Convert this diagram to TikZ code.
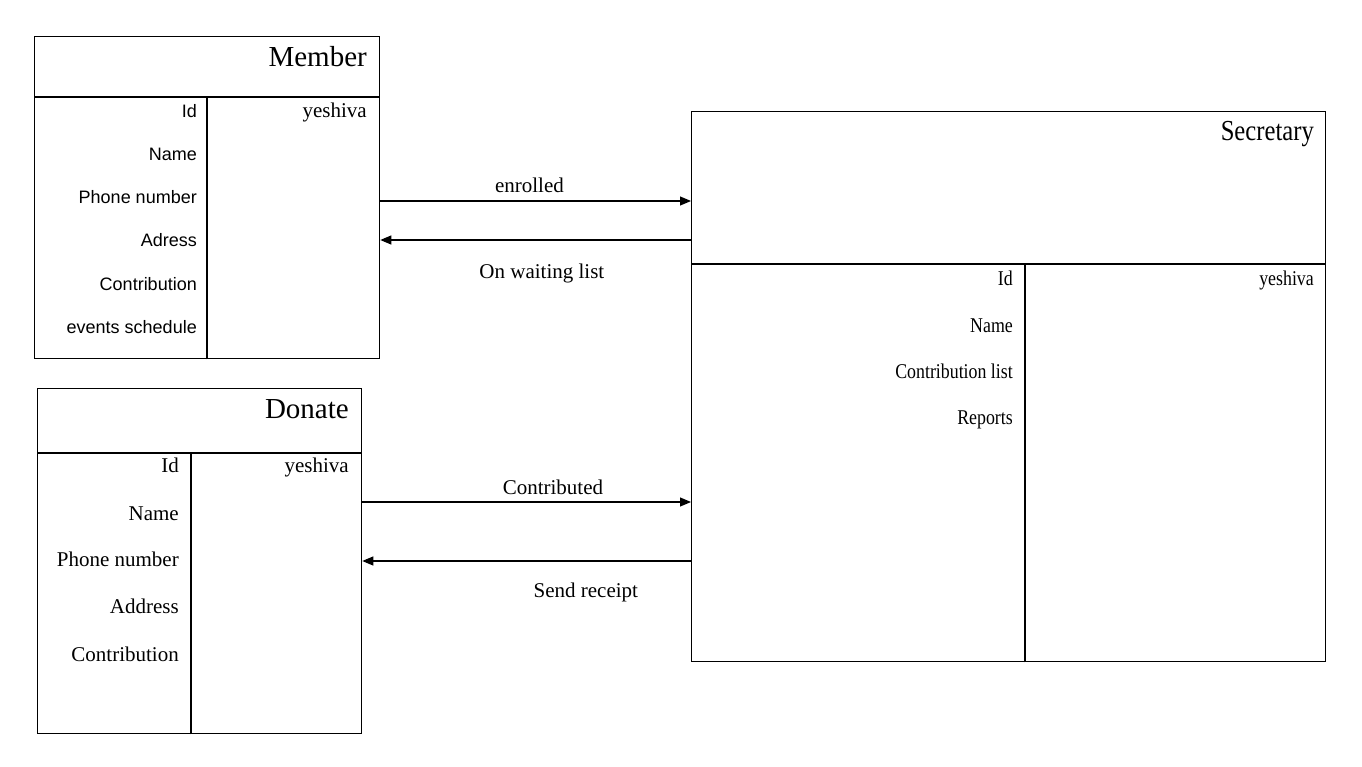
\documentclass[tikz,border=0pt]{standalone}
\usepackage{fontspec}
\setmainfont{Liberation Serif}
\setsansfont{Liberation Sans}
\newfontfamily\narrowserif[FakeStretch=0.85]{Liberation Serif}
\usepackage{tikz}
\usetikzlibrary{arrows.meta}

\begin{document}
\begin{tikzpicture}[
  x=1pt, y=-1pt,
  entity/.style={draw, line width=1.3pt, anchor=north west, inner sep=0pt},
  part/.style={line width=1.1pt},
  title/.style={anchor=east, inner sep=0pt, text height=19pt, text depth=0pt,
                font=\fontsize{29}{33}\selectfont},
  attr/.style={anchor=east, inner sep=0pt, text height=14pt, text depth=0pt,
               font=\fontsize{21}{25}\selectfont},
  sattr/.style={anchor=east, inner sep=0pt, text height=13pt, text depth=0pt,
                font=\sffamily\fontsize{18}{22}\selectfont},
  link/.style={line width=1.1pt, -{Triangle[length=11pt, width=9pt]}},
  tag/.style={font=\fontsize{21}{25}\selectfont}
]
\useasboundingbox (0,0) rectangle (1362,767);

% entities
\node[entity, minimum width=345pt, minimum height=322pt] (member) at (34,36) {};
\node[entity, minimum width=324pt, minimum height=345pt] (donate) at (37,388) {};
\node[entity, minimum width=634pt, minimum height=550pt] (secretary) at (691,111) {};

% member compartments
\draw[part] ([yshift=-61pt]member.north west) -- ([yshift=-61pt]member.north east);
\draw[part] ([xshift=173pt]member.south west) -- ([xshift=173pt, yshift=-61pt]member.north west);
\node[title] (membertitle) at (367,57) {Member};
\node[attr] (memberyeshiva) at (367,111) {yeshiva};
\foreach \txt/\y in {Id/111, Name/154, Phone number/197, Adress/240,
                     Contribution/284, events schedule/327}
  \node[sattr] at (197,\y) {\txt};

% donate compartments
\draw[part] ([yshift=-65pt]donate.north west) -- ([yshift=-65pt]donate.north east);
\draw[part] ([xshift=154pt]donate.south west) -- ([xshift=154pt, yshift=-65pt]donate.north west);
\node[title] (donatetitle) at (349,409) {Donate};
\node[attr] (donateyeshiva) at (349,465) {yeshiva};
\foreach \txt/\y in {Id/465, Name/513, Phone number/559, Address/606, Contribution/654}
  \node[attr] at (179,\y) {\txt};

% secretary compartments
\draw[part] ([yshift=-153pt]secretary.north west) -- ([yshift=-153pt]secretary.north east);
\draw[part] ([xshift=334pt]secretary.south west) -- ([xshift=334pt, yshift=-153pt]secretary.north west);
\node[title, font=\narrowserif\fontsize{29}{33}\selectfont] (secretarytitle) at (1314,131) {Secretary};
\node[attr, font=\narrowserif\fontsize{21}{25}\selectfont] (secretaryyeshiva) at (1314,279) {yeshiva};
\foreach \txt/\y in {Id/279, Name/325, Contribution list/371, Reports/417}
  \node[attr, font=\narrowserif\fontsize{21}{25}\selectfont] at (1013,\y) {\txt};

% relations
\coordinate (enrolledY) at (0,201);
\coordinate (waitingY) at (0,240);
\coordinate (contribY) at (0,502);
\coordinate (receiptY) at (0,561);
\draw[link] (member.east |- enrolledY) -- (secretary.west |- enrolledY)
  node[tag, pos=0.48, above=4pt] {enrolled};
\draw[link] (secretary.west |- waitingY) -- (member.east |- waitingY)
  node[tag, pos=0.48, below=20pt] {On waiting list};
\draw[link] (donate.east |- contribY) -- (secretary.west |- contribY)
  node[tag, pos=0.58, above=3pt] {Contributed};
\draw[link] (secretary.west |- receiptY) -- (donate.east |- receiptY)
  node[tag, pos=0.32, below=18pt] {Send receipt};
\end{tikzpicture}
\end{document}
